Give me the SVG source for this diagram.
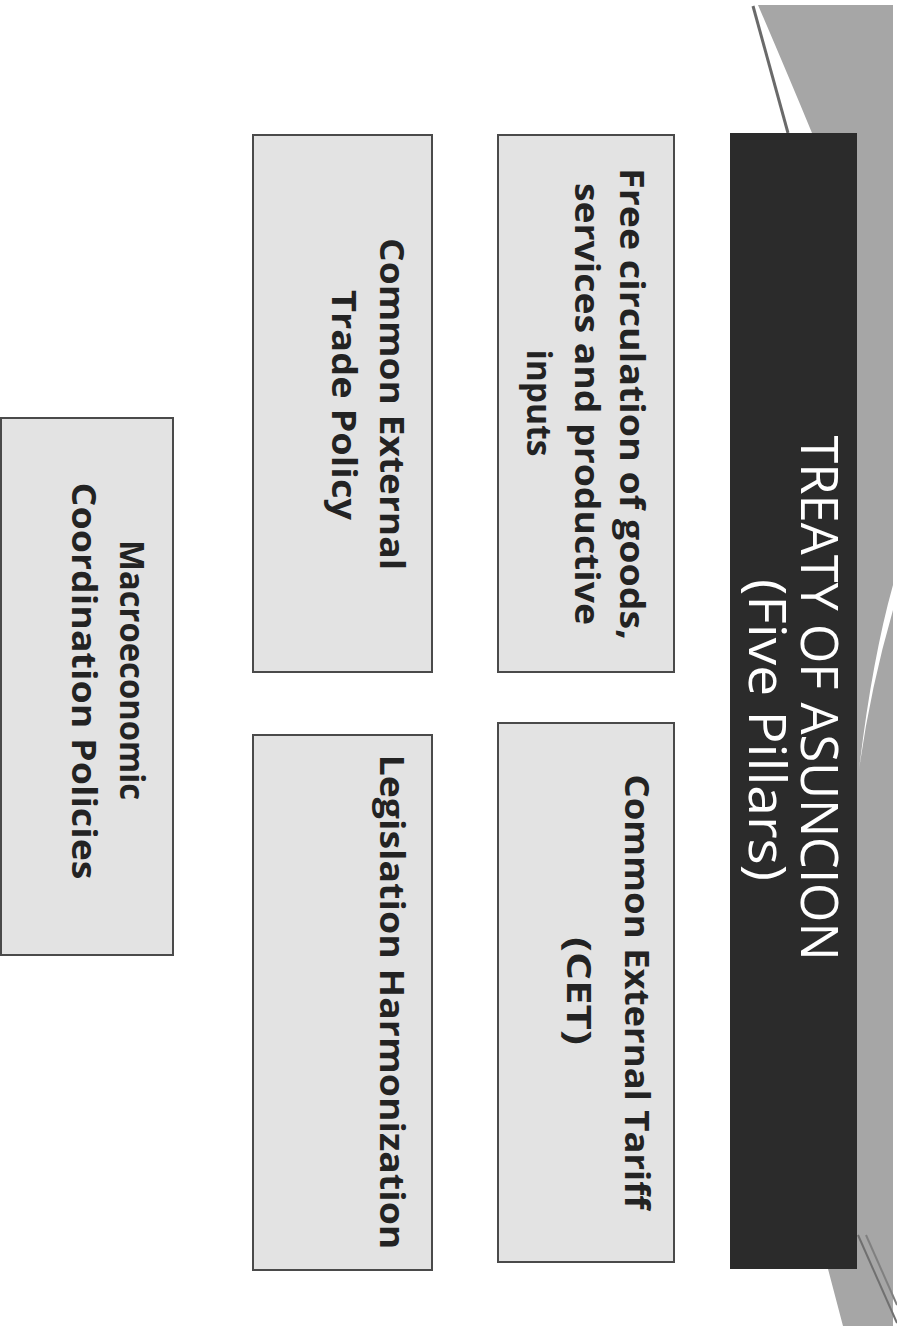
<svg xmlns="http://www.w3.org/2000/svg" width="897" height="1326" viewBox="0 0 897 1326">
<style>
.box{fill:#e3e3e3;stroke:#4a4a4a;stroke-width:2}
.bt{font-family:"Open Sans","Liberation Sans",sans-serif;font-weight:700;font-size:34px;fill:#232323;text-anchor:middle}
.tt{font-family:"Open Sans","Liberation Sans",sans-serif;font-weight:400;font-size:52px;fill:#ffffff;text-anchor:middle}
</style>
<rect width="897" height="1326" fill="#ffffff"/>
<g id="decor">
<path d="M758,5 L893,5 L893,1326 L843,1326 L828,1269 L812,133 Q788,75 758,5 Z" fill="#a6a6a6"/>
<path d="M753,6 L788,133" stroke="#6a6a6a" stroke-width="3" fill="none"/>
<path d="M893,585 Q872,660 859,770 Q870,690 893,610 Z" fill="#ffffff"/>
<path d="M858,1235 L897,1323" stroke="#707070" stroke-width="2" fill="none"/>
<path d="M866,1235 L897,1305" stroke="#808080" stroke-width="2" fill="none"/>
</g>
<g id="title">
<rect x="730" y="133" width="127" height="1136" fill="#2b2b2b"/>
<text class="tt" transform="translate(801 698) rotate(90)" textLength="525" lengthAdjust="spacingAndGlyphs">TREATY OF ASUNCION</text>
<text class="tt" transform="translate(749 730) rotate(90)" textLength="302" lengthAdjust="spacingAndGlyphs">(Five Pillars)</text>
</g>
<g id="free-circulation">
<rect class="box" x="498" y="135" width="176" height="537"/>
<text class="bt" transform="translate(620 404) rotate(90)" textLength="472" lengthAdjust="spacingAndGlyphs">Free circulation of goods,</text>
<text class="bt" transform="translate(575 404) rotate(90)" textLength="442" lengthAdjust="spacingAndGlyphs">services and productive</text>
<text class="bt" transform="translate(527 403) rotate(90)" textLength="107" lengthAdjust="spacingAndGlyphs">inputs</text>
</g>
<g id="cet">
<rect class="box" x="498" y="723" width="176" height="539"/>
<text class="bt" transform="translate(625 992) rotate(90)" textLength="435" lengthAdjust="spacingAndGlyphs">Common External Tariff</text>
<text class="bt" transform="translate(567 991) rotate(90)" textLength="108" lengthAdjust="spacingAndGlyphs">(CET)</text>
</g>
<g id="trade-policy">
<rect class="box" x="253" y="135" width="179" height="537"/>
<text class="bt" transform="translate(380 404) rotate(90)" textLength="332" lengthAdjust="spacingAndGlyphs">Common External</text>
<text class="bt" transform="translate(332 405) rotate(90)" textLength="230" lengthAdjust="spacingAndGlyphs">Trade Policy</text>
</g>
<g id="legislation">
<rect class="box" x="253" y="735" width="179" height="535"/>
<text class="bt" transform="translate(380 1002) rotate(90)" textLength="495" lengthAdjust="spacingAndGlyphs">Legislation Harmonization</text>
</g>
<g id="macro">
<rect class="box" x="1" y="418" width="172" height="537"/>
<text class="bt" transform="translate(120 670) rotate(90)" textLength="260" lengthAdjust="spacingAndGlyphs">Macroeconomic</text>
<text class="bt" transform="translate(72 681) rotate(90)" textLength="397" lengthAdjust="spacingAndGlyphs">Coordination Policies</text>
</g>
<g id="connectors"></g>
</svg>
